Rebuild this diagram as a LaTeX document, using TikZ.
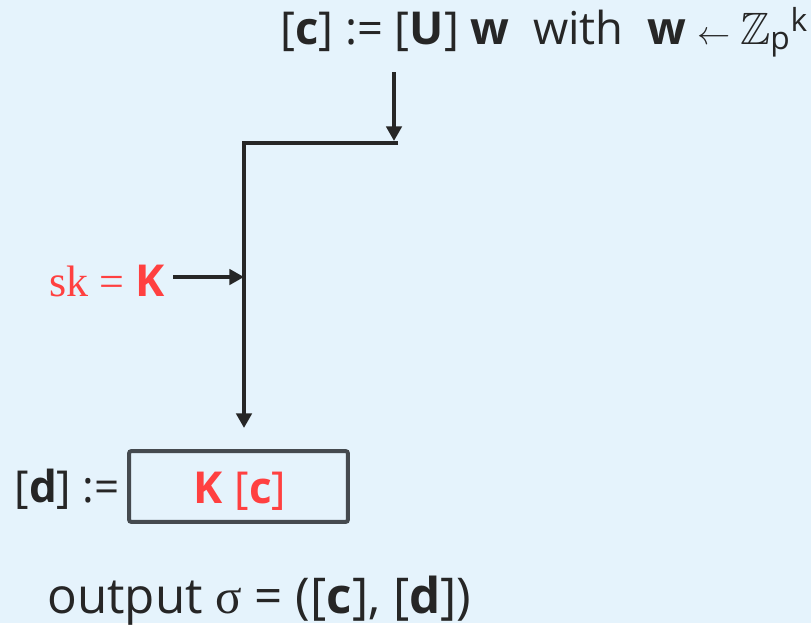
\documentclass[tikz,border=0pt]{standalone}
\usepackage{fontspec}
\usepackage{amssymb}
\usetikzlibrary{arrows.meta}
\setmainfont{Open Sans}
\newfontfamily\greekserif{Liberation Serif}
\definecolor{bg}{rgb}{0.90, 0.953, 0.988}
\definecolor{keyred}{rgb}{1.0, 0.25, 0.25}
\definecolor{ink}{rgb}{0.15, 0.15, 0.15}
\definecolor{frame}{rgb}{0.27, 0.29, 0.31}

\begin{document}
\begin{tikzpicture}[x=0.75pt,y=-0.75pt,
        wire/.style={draw=ink,line width=3.4pt},
        feed/.style={wire,-{Triangle[length=11pt,width=11.5pt]}},
        txt/.style={inner sep=0pt,text=ink,font=\fontsize{33}{38}\selectfont},
        keybox/.style={draw=frame,line width=3pt,rounded corners=1.5pt,minimum width=164pt,minimum height=53pt,inner sep=0pt}]
        \fill[bg] (0,0) rectangle (811,623);
        % sampling of the commitment
        \node[txt,anchor=base,font=\fontsize{34}{38}\selectfont] (commit) at (544,44) {[\textbf{c}] := [\textbf{U}] \textbf{w}\ \ with\ \ \textbf{w} $\leftarrow \mathbb{Z}_{\mathrm{p}}{}^{\mathrm{k}}$};
        \coordinate (cin) at (394,72);
        \coordinate (cout) at (394,141);
        \coordinate (join) at (398,143);
        \coordinate (corner) at (244,143);
        \coordinate (mix) at (244,277);
        \coordinate (boxin) at (244,428);
        % secret key enters from the left
        \node[txt,anchor=base east,text=keyred] (sk) at (165,296) {{\greekserif sk = }\textbf{K}};
        % the product box
        \node[keybox] (prod) at (238.5,486.5) {};
        \node[txt,anchor=base,text=keyred] (kc) at (240,503) {\textbf{K} [\textbf{c}]};
        \node[txt,anchor=base east] (dlabel) at (120,502) {[\textbf{d}] :=};
        \node[txt,anchor=base west,font=\fontsize{37}{42}\selectfont] (output) at (47,613) {output {\greekserif σ} = ([\textbf{c}], [\textbf{d}])};
        \draw[feed] (cin) -- (cout);
        \draw[wire] (join) -- (corner) -- (mix);
        \draw[feed] (mix) -- (boxin);
        \draw[feed] ([xshift=6pt]sk.east |- mix) -- (mix);
    \end{tikzpicture}
\end{document}
